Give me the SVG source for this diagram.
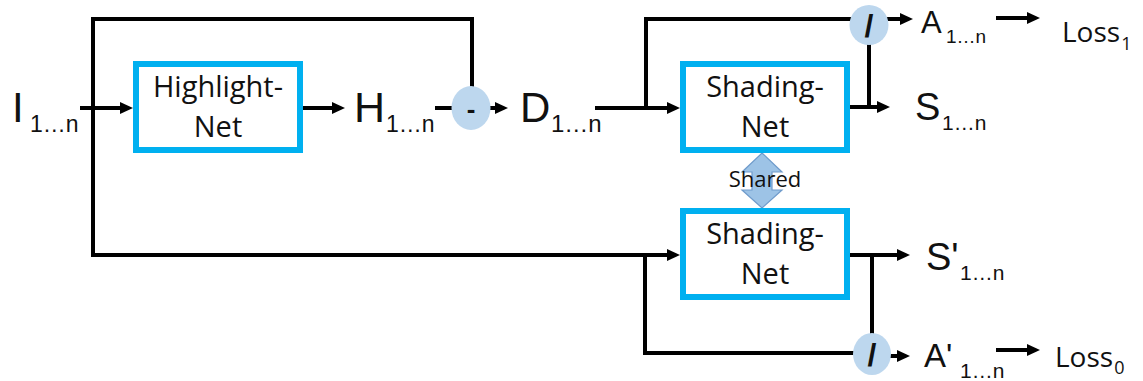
<svg xmlns="http://www.w3.org/2000/svg" width="1143" height="381" viewBox="0 0 1143 381">
<style>
.ln{fill:none;stroke:#000;stroke-width:4;stroke-linejoin:miter}
.arr{marker-end:url(#ah)}
.box{fill:#fff;stroke:#00b0f0;stroke-width:6}
.bt{font-family:"Open Sans","Liberation Sans",sans-serif;font-size:29px;fill:#111;text-anchor:middle}
.lbl{font-family:"Liberation Sans","DejaVu Sans",sans-serif;fill:#111}
.op{fill:#bdd7ee}
.opt{font-family:"Liberation Sans",sans-serif;font-weight:bold;fill:#111;text-anchor:middle}
.loss{font-family:"Open Sans","Liberation Sans",sans-serif;font-size:28px;fill:#111}
</style>
<defs>
<marker id="ah" markerUnits="userSpaceOnUse" markerWidth="13" markerHeight="12" viewBox="0 0 13 12" refX="5" refY="6" orient="auto">
<path d="M0,0 L13,6 L0,12 z" fill="#000"/>
</marker>
</defs>
<g id="connectors">
<path class="ln arr" d="M80,108 H125"/>
<path class="ln arr" d="M472,88 V19 H93 V255 H672"/>
<path class="ln arr" d="M303,108 H337"/>
<path class="ln" d="M435,108 H455"/>
<path class="ln arr" d="M488,108 H500"/>
<path class="ln arr" d="M595,108 H672"/>
<path class="ln" d="M646,108 V19 H852"/>
<path class="ln arr" d="M886,19 H905"/>
<path class="ln arr" d="M849,107 H882"/>
<path class="ln" d="M869,43 V107"/>
<path class="ln arr" d="M996,18 H1032"/>
<path class="ln" d="M645,255 V353 H855"/>
<path class="ln arr" d="M889,356 H902"/>
<path class="ln arr" d="M849,255 H902"/>
<path class="ln" d="M872,255 V335"/>
<path class="ln arr" d="M996,350 H1032"/>
<polygon points="762,153 782,172 772,172 772,190 782,190 762,208 742,190 752,190 752,172 742,172" fill="#9dc3e6" stroke="#6f9bcb" stroke-width="1.2"/>
<text x="765" y="187" font-family="Open Sans, Liberation Sans, sans-serif" font-size="22" fill="#111" text-anchor="middle">Shared</text>
</g>
<g id="highlight-net">
<rect class="box" x="136" y="64" width="164" height="86" stroke-width="5"/>
<text class="bt" x="218" y="97">Highlight-</text>
<text class="bt" x="218" y="137">Net</text>
</g>
<g id="shading-net-1">
<rect class="box" x="683" y="64" width="164" height="86"/>
<text class="bt" x="765" y="97">Shading-</text>
<text class="bt" x="765" y="137">Net</text>
</g>
<g id="shading-net-2">
<rect class="box" x="683" y="211" width="164" height="86"/>
<text class="bt" x="765" y="244">Shading-</text>
<text class="bt" x="765" y="284">Net</text>
</g>
<g id="minus">
<ellipse class="op" cx="471" cy="108" rx="19.5" ry="22"/>
<text class="opt" x="471" y="118" font-size="26">-</text>
</g>
<g id="divide-1">
<ellipse class="op" cx="869" cy="25" rx="19.5" ry="20"/>
<text class="opt" x="869" y="37" font-size="32">/</text>
</g>
<g id="divide-2">
<ellipse class="op" cx="872" cy="354" rx="19" ry="21"/>
<text class="opt" x="872" y="366" font-size="32">/</text>
</g>
<g id="label-I">
<text class="lbl" x="12" y="122" font-size="42">I<tspan x="30" y="132" font-size="23">1…n</tspan></text>
</g>
<g id="label-H">
<text class="lbl" x="354" y="122" font-size="43">H<tspan x="386" y="132" font-size="23">1…n</tspan></text>
</g>
<g id="label-D">
<text class="lbl" x="520" y="122" font-size="42">D<tspan x="551" y="132" font-size="24">1…n</tspan></text>
</g>
<g id="label-A">
<text class="lbl" x="921" y="33" font-size="31">A<tspan x="946" y="43" font-size="19">1…n</tspan></text>
</g>
<g id="label-S">
<text class="lbl" x="915" y="120" font-size="38">S<tspan x="942" y="130" font-size="21">1…n</tspan></text>
</g>
<g id="label-S-prime">
<text class="lbl" x="926" y="270" font-size="38">S'<tspan x="960" y="280" font-size="21">1…n</tspan></text>
</g>
<g id="label-A-prime">
<text class="lbl" x="924" y="367" font-size="33">A'<tspan x="960" y="378" font-size="21">1…n</tspan></text>
</g>
<g id="loss1">
<text class="loss" x="1062" y="42">Loss<tspan dx="1" dy="8" font-size="18">1</tspan></text>
</g>
<g id="loss0">
<text class="loss" x="1055" y="367">Loss<tspan dx="1" dy="7" font-size="18">0</tspan></text>
</g>
</svg>
